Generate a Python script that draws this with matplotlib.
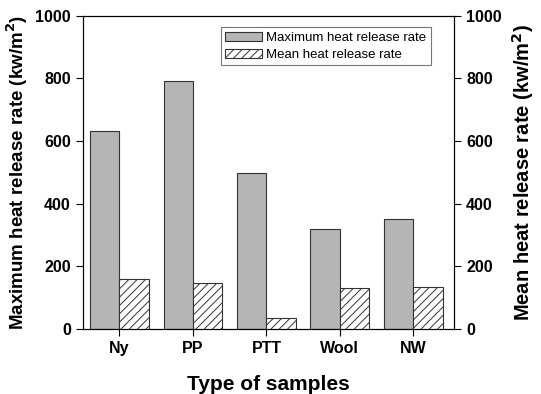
import matplotlib.pyplot as plt
import numpy as np

plt.rcParams['font.family'] = ['Liberation Sans', 'DejaVu Sans']
plt.rcParams['hatch.linewidth'] = 0.7

samples = ['Ny', 'PP', 'PTT', 'Wool', 'NW']
max_hrr = [633, 792, 498, 319, 351]
mean_hrr = [160, 147, 35, 131, 134]

x = np.arange(len(samples))
w = 0.4

fig, ax = plt.subplots(figsize=(5.41, 3.94), dpi=100)
fig.subplots_adjust(left=0.153, right=0.84, top=0.96, bottom=0.165)

ax.bar(x - w/2, max_hrr, w, color='#b5b5b5', edgecolor='#333333', linewidth=0.8,
       label='Maximum heat release rate')
ax2 = ax.twinx()
ax2.bar(x + w/2, mean_hrr, w, color='white', edgecolor='#333333', linewidth=0.8,
        hatch='////', label='Mean heat release rate')

ax.set_xlim(-0.5, 4.56)
ax.set_ylim(0, 1000)
ax2.set_ylim(0, 1000)
ax.set_yticks([0, 200, 400, 600, 800, 1000])
ax2.set_yticks([0, 200, 400, 600, 800, 1000])
ax.set_xticks(x)
ax.set_xticklabels(samples, fontweight='bold', fontsize=11.5)
for a in (ax, ax2):
    a.tick_params(axis='y', labelsize=11.5, direction='out', length=5)
    for lab in a.get_yticklabels():
        lab.set_fontweight('bold')
ax.tick_params(axis='x', direction='out', length=5)

ax.set_xlabel('Type of samples', fontsize=15, fontweight='bold', labelpad=14)
ax.set_ylabel('Maximum heat release rate (kw/m$^\\mathbf{2}$)', fontsize=13.5, fontweight='bold')
ax2.set_ylabel('Mean heat release rate (kw/m$^\\mathbf{2}$)', fontsize=14.5, fontweight='bold',
               labelpad=6)

h1, l1 = ax.get_legend_handles_labels()
h2, l2 = ax2.get_legend_handles_labels()
leg = ax2.legend(h1 + h2, l1 + l2, loc='upper right', fontsize=9.5, fancybox=False,
                 edgecolor='#555555', borderpad=0.35, handlelength=2.8, handletextpad=0.3,
                 labelspacing=0.35, bbox_to_anchor=(0.955, 0.985))
leg.get_frame().set_linewidth(0.8)

plt.savefig('out.png', dpi=100)
